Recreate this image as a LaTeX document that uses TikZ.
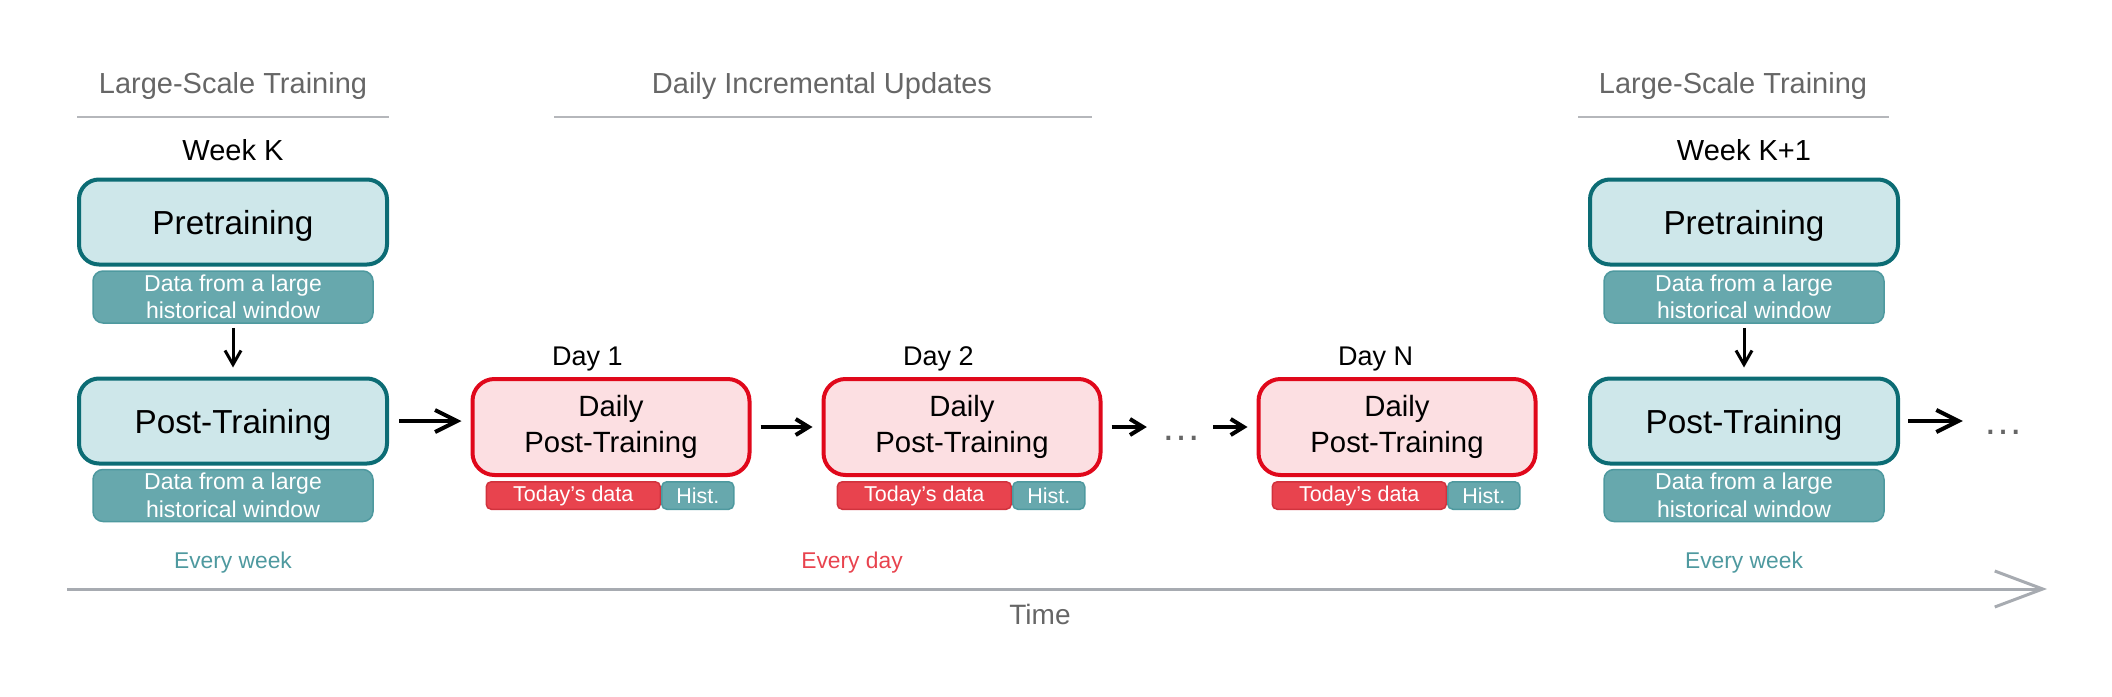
\documentclass[tikz,border=0pt]{standalone}
\usepackage{fontspec}
\setmainfont{Liberation Sans}
\usetikzlibrary{arrows.meta}
\definecolor{tealdk}{HTML}{0C6C74}
\definecolor{tealbg}{HTML}{CEE7EA}
\definecolor{tealmd}{HTML}{67A8AD}
\definecolor{tealln}{HTML}{4E999F}
\definecolor{redln}{HTML}{E0081B}
\definecolor{redbg}{HTML}{FCDFE2}
\definecolor{redmd}{HTML}{E8434E}
\definecolor{redmdln}{HTML}{D1323D}
\definecolor{headgray}{HTML}{666666}
\definecolor{rulegray}{HTML}{B5B7BB}
\definecolor{axisgray}{HTML}{A7ABB1}
\tikzset{
  stage/.style={draw=tealdk,fill=tealbg,line width=4pt,rounded corners=20pt,minimum width=308pt,minimum height=85pt,inner sep=0pt,text depth=0pt,font=\fontsize{33.3}{40}\selectfont},
  datawin/.style={draw=tealln,fill=tealmd,line width=1.5pt,rounded corners=10pt,minimum width=280pt,minimum height=52pt,inner sep=0pt,text=white,align=center,font=\fontsize{23}{27.5}\selectfont},
  daily/.style={draw=redln,fill=redbg,line width=4pt,rounded corners=22pt,minimum width=277pt,minimum height=96pt,inner sep=0pt,align=center,font=\fontsize{29.3}{36}\selectfont},
  today/.style={draw=redmdln,fill=redmd,line width=1.5pt,rounded corners=5pt,minimum width=174pt,minimum height=27.5pt,inner sep=0pt,text=white,font=\fontsize{21.5}{24}\selectfont},
  hist/.style={today,draw=tealln,fill=tealmd,minimum width=72pt},
  head/.style={text=headgray,anchor=base,font=\fontsize{29}{34}\selectfont},
  weeklbl/.style={anchor=base,font=\fontsize{29}{34}\selectfont},
  daylbl/.style={anchor=base west,font=\fontsize{27}{32}\selectfont},
  freq/.style={anchor=base,font=\fontsize{22.8}{27}\selectfont},
  more/.style={text=headgray,inner sep=0pt,font=\fontsize{40}{40}\selectfont},
  go/.style={-{Straight Barb[length=22pt,width=22pt]},line width=4pt},
  gosm/.style={-{Straight Barb[length=13pt,width=16pt]},line width=4pt},
  godown/.style={-{Straight Barb[length=14pt,width=16pt]},line width=3pt},
  rule/.style={draw=rulegray,line width=2pt}
}
\begin{document}
\begin{tikzpicture}[x=1pt,y=-1pt]
\useasboundingbox (0,0) rectangle (2112,696);
% headings
\node[head] (hd1) at (233,93) {Large-Scale Training};
\node[head] (hd2) at (822,93) {Daily Incremental Updates};
\node[head] (hd3) at (1733,93) {Large-Scale Training};
\draw[rule] (77,117) -- (389,117) (554,117) -- (1092,117) (1578,117) -- (1889,117);
% week K
\node[weeklbl] (wk1) at (233,160) {Week K};
\node[stage] (pre1) at (233,222) {Pretraining};
\node[datawin] (dat1) at (233,297) {Data from a large\\historical window};
\node[stage] (post1) at (233,421) {Post-Training};
\node[datawin] (dat2) at (233,495.5) {Data from a large\\historical window};
\draw[godown] (dat1.south) -- (post1.north) [shorten <=4pt,shorten >=9pt];
% days
\node[daily] (day1) at (611,427) {Daily\\Post-Training};
\node[daily] (day2) at (962,427) {Daily\\Post-Training};
\node[daily] (dayN) at (1397,427) {Daily\\Post-Training};
\node[daylbl,xshift=78pt,yshift=12pt] (lbl1) at (day1.north west) {Day 1};
\node[daylbl,xshift=78pt,yshift=12pt] (lbl2) at (day2.north west) {Day 2};
\node[daylbl,xshift=78pt,yshift=12pt] (lblN) at (dayN.north west) {Day N};
\node[today,anchor=north west,xshift=15pt,yshift=-4pt] (td1) at (day1.south west) {Today's data};
\node[hist,anchor=west] (hs1) at (td1.east) {Hist.};
\node[today,anchor=north west,xshift=15pt,yshift=-4pt] (td2) at (day2.south west) {Today's data};
\node[hist,anchor=west] (hs2) at (td2.east) {Hist.};
\node[today,anchor=north west,xshift=15pt,yshift=-4pt] (tdN) at (dayN.south west) {Today's data};
\node[hist,anchor=west] (hsN) at (tdN.east) {Hist.};
\node[more] (dots1) at (1181,438) {…};
% week K+1
\node[weeklbl] (wk2) at (1744,160) {Week K+1};
\node[stage] (pre2) at (1744,222) {Pretraining};
\node[datawin] (dat3) at (1744,297) {Data from a large\\historical window};
\node[stage] (post2) at (1744,421) {Post-Training};
\node[datawin] (dat4) at (1744,495.5) {Data from a large\\historical window};
\draw[godown] (dat3.south) -- (post2.north) [shorten <=4pt,shorten >=9pt];
\node[more] (dots2) at (2003,432) {…};
% arrows
\draw[go,shorten <=10pt,shorten >=9pt] (post1.east) -- (day1.west |- post1.east);
\draw[gosm,shorten <=9pt,shorten >=9pt] (day1.east) -- (day2.west);
\draw[gosm,shorten <=9pt,shorten >=14pt] (day2.east) -- (dots1.west |- day2.east);
\draw[gosm,shorten <=12pt,shorten >=9pt] (dots1.east |- dayN.west) -- (dayN.west);
\draw[go,shorten <=8pt,shorten >=20pt] (post2.east) -- (dots2.west |- post2.east);
% time axis
\node[freq,text=tealln] (ev1) at (233,568) {Every week};
\node[freq,text=redmd] (ev2) at (852,568) {Every day};
\node[freq,text=tealln] (ev3) at (1744,568) {Every week};
\coordinate (t0) at (67,589);
\coordinate (t1) at (2047,589);
\draw[axisgray,line width=3pt,-{Straight Barb[length=48pt,width=36pt]}] (t0) -- (t1);
\node[anchor=base,text=headgray,font=\fontsize{28}{32}\selectfont] (tm) at (1040,624) {Time};
\end{tikzpicture}
\end{document}
